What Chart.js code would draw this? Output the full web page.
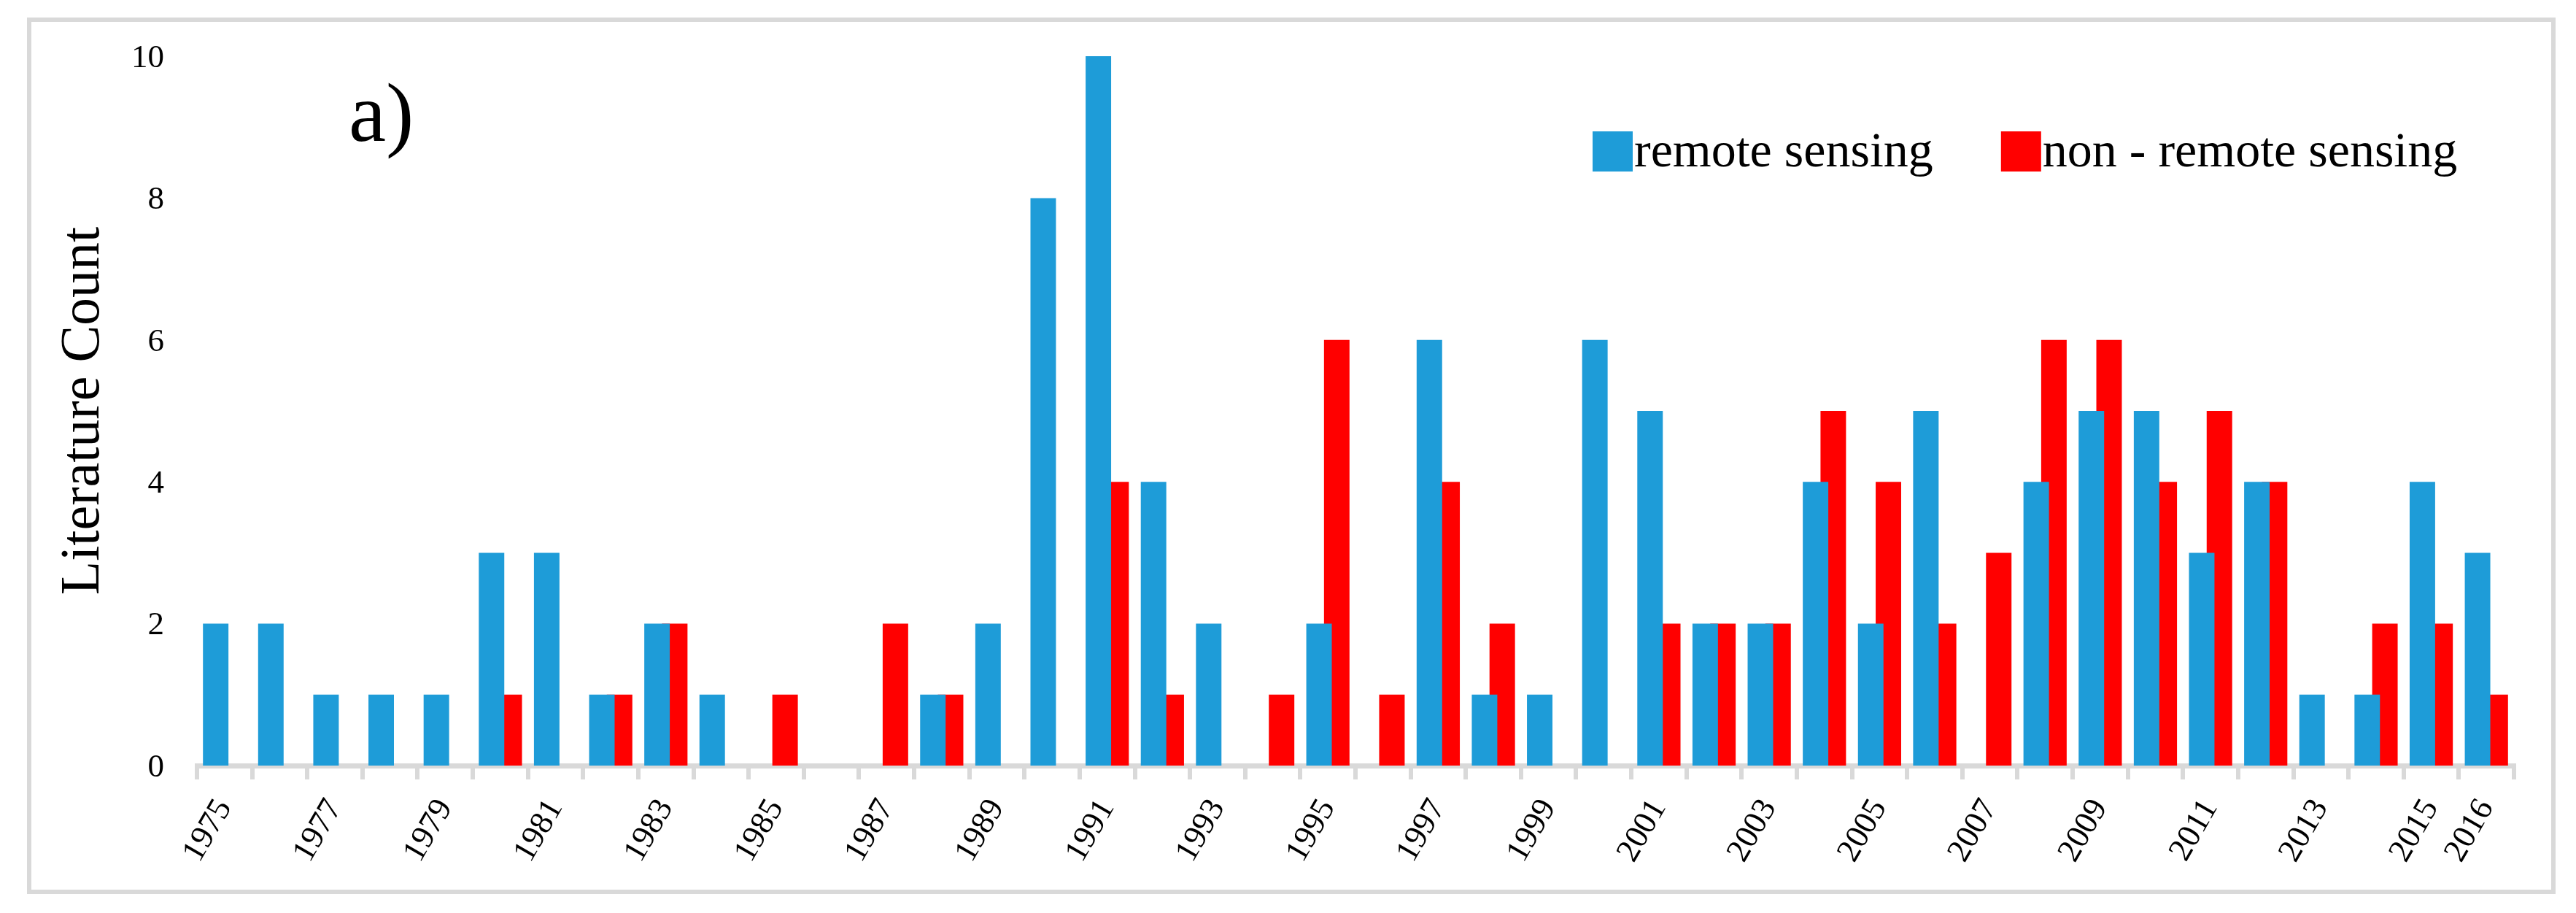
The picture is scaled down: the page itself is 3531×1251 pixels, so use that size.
<!DOCTYPE html>
<html>
<head>
<meta charset="utf-8">
<script src="https://cdn.jsdelivr.net/npm/chart.js@4"></script>
<style>
  html, body { margin: 0; padding: 0; background: #fff; }
  canvas { display: block; }
</style>
</head>
<body>
<canvas id="myChart" width="3531" height="1251"></canvas>
<script>
// data
var years = [1975, 1976, 1977, 1978, 1979, 1980, 1981, 1982, 1983, 1984,
             1985, 1986, 1987, 1988, 1989, 1990, 1991, 1992, 1993, 1994,
             1995, 1996, 1997, 1998, 1999, 2000, 2001, 2002, 2003, 2004,
             2005, 2006, 2007, 2008, 2009, 2010, 2011, 2012, 2013, 2014,
             2015, 2016];
var remoteSensing = [2, 2, 1, 1, 1, 3, 3, 1, 2, 1,
                     0, 0, 0, 1, 2, 8, 10, 4, 2, 0,
                     2, 0, 6, 1, 1, 6, 5, 2, 2, 4,
                     2, 5, 0, 4, 5, 5, 3, 4, 1, 1,
                     4, 3];
var nonRemoteSensing = [0, 0, 0, 0, 0, 1, 0, 1, 2, 0,
                        1, 0, 2, 1, 0, 0, 4, 1, 0, 1,
                        6, 1, 4, 2, 0, 0, 2, 2, 2, 5,
                        4, 2, 3, 6, 6, 4, 5, 4, 0, 2,
                        2, 1];
var shownYears = [1975, 1977, 1979, 1981, 1983, 1985, 1987, 1989, 1991, 1993,
                  1995, 1997, 1999, 2001, 2003, 2005, 2007, 2009, 2011, 2013,
                  2015, 2016];
var yTicks = [0, 2, 4, 6, 8, 10];

var BLUE = '#1e9cd8';
var RED = '#ff0000';
var GRAY = '#d9d9d9';
var FONT = "'Liberation Serif', 'Times New Roman', serif";

// frame, "a)" and legend
var extras = {
    id: 'extras',
    beforeDraw: function (chart) {
        var c = chart.ctx;
        c.save();
        c.fillStyle = '#fff';
        c.fillRect(0, 0, chart.width, chart.height);
        c.strokeStyle = GRAY;
        c.lineWidth = 6;
        c.strokeRect(40, 27, 3460, 1195);
        c.restore();
    },
    afterDraw: function (chart) {
        var c = chart.ctx;
        c.save();
        c.fillStyle = '#000';
        c.textBaseline = 'alphabetic';
        c.font = '115px ' + FONT;
        c.fillText('a)', 478, 193);

        // legend
        c.font = '68px ' + FONT;
        var x = 2183;
        chart.data.datasets.forEach(function (ds) {
            c.fillStyle = ds.backgroundColor;
            c.fillRect(x, 180, 55, 55);
            c.fillStyle = '#000';
            c.fillText(ds.label, x + 57, 228);
            x += 57 + c.measureText(ds.label).width + 93;
        });
        c.restore();
    }
};

var ctx = document.getElementById('myChart');
var myChart = new Chart(ctx, {
    type: 'bar',
    data: {
        labels: years,
        datasets: [{
            label: 'remote sensing',
            data: remoteSensing,
            backgroundColor: BLUE,
            categoryPercentage: 0.642,
            barPercentage: 1.44
        }, {
            label: 'non - remote sensing',
            data: nonRemoteSensing,
            backgroundColor: RED,
            categoryPercentage: 0.642,
            barPercentage: 1.44
        }]
    },
    options: {
        responsive: false,
        animation: false,
        devicePixelRatio: 1,
        layout: {
            padding: { top: 77, right: 85, left: 60, bottom: 52 }
        },
        plugins: {
            legend: { display: false },
            tooltip: { enabled: false }
        },
        scales: {
            x: {
                z: 1,
                afterFit: function (s) { s.height = 150; },
                grid: {
                    offset: true,
                    drawOnChartArea: false,
                    drawTicks: true,
                    tickLength: 19,
                    color: GRAY,
                    lineWidth: 6
                },
                border: { display: true, color: GRAY, width: 7 },
                ticks: {
                    autoSkip: false,
                    minRotation: 60,
                    maxRotation: 60,
                    padding: 18,
                    color: '#000',
                    font: { family: FONT, size: 45 },
                    callback: function (v, i) {
                        return shownYears.indexOf(years[i]) >= 0 ? String(years[i]) : '';
                    }
                }
            },
            y: {
                min: 0,
                max: 10,
                afterFit: function (s) { s.width = 210; },
                afterBuildTicks: function (s) {
                    s.ticks = yTicks.map(function (v) { return { value: v }; });
                },
                grid: { display: false, drawTicks: false },
                border: { display: false },
                ticks: {
                    padding: 45,
                    labelOffset: 3,
                    color: '#000',
                    font: { family: FONT, size: 45 }
                },
                title: {
                    display: true,
                    text: 'Literature Count',
                    color: '#000',
                    font: { family: FONT, size: 76 },
                    padding: { top: 9, bottom: 0 }
                }
            }
        }
    },
    plugins: [extras]
});
</script>
</body>
</html>
